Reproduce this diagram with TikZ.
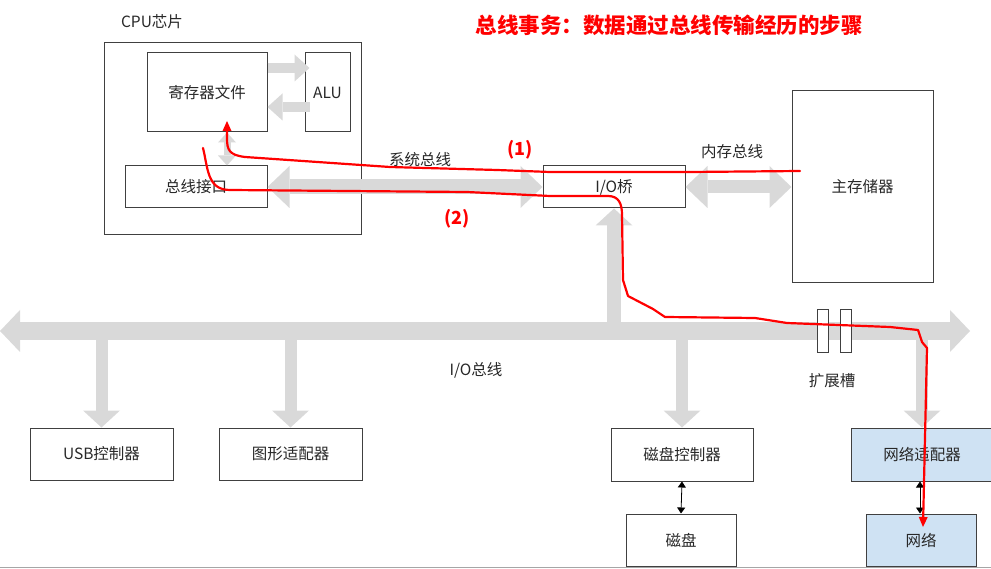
\documentclass[tikz,border=0pt]{standalone}
\usepackage{fontspec}
\setmainfont{Noto Sans CJK SC}
\usetikzlibrary{arrows.meta}

\definecolor{busgray}{RGB}{217,217,217}
\definecolor{netblue}{RGB}{207,226,243}
\definecolor{txtgray}{RGB}{40,40,40}

\tikzset{
  box/.style n args={2}{draw=black!75, line width=1pt, fill=white, inner sep=0pt,
    minimum width=#1, minimum height=#2, text=txtgray, font=\fontsize{15.5}{18}\selectfont},
  lbl/.style={inner sep=0pt, text=txtgray, font=\fontsize{15.5}{18}\selectfont},
  redlbl/.style={inner sep=0pt, text=red, font=\fontsize{18}{21}\selectfont\bfseries},
  gbar/.style={draw=busgray, line width=#1},
  redline/.style={draw=red, line width=2.2pt, line join=round, line cap=round},
  CpuTip/.tip={Triangle[length=15pt,width=27pt,line width=0pt]},
  ViaTip/.tip={Triangle[length=10pt,width=18pt,line width=0pt]},
  SysTip/.tip={Triangle[length=22pt,width=42pt,line width=0pt]},
  IoTip/.tip={Triangle[length=20pt,width=42pt,line width=0pt]},
  DownTip/.tip={Triangle[length=17pt,width=37pt,line width=0pt]},
  SmTip/.tip={Triangle[length=6pt,width=8pt]},
  RedTip/.tip={Triangle[length=10pt,width=9pt,line width=0pt]},
}

\begin{document}
\begin{tikzpicture}[x=1pt, y=-1pt, line width=1pt]
\useasboundingbox (0,0) rectangle (991,569);

% CPU芯片
\node[box={257pt}{192pt}] (cpu) at (232.5,139) {};
\node[lbl] (cpulbl) at (152,22) {CPU芯片};
\node[box={120pt}{79pt}] (reg) at (207,92.5) {寄存器文件};
\node[box={45pt}{79pt}] (alu) at (327.5,92.5) {ALU};
\node[box={142pt}{42pt}] (busif) at (196,187) {总线接口};

% 桥和主存
\node[box={142pt}{42pt}] (iobr) at (614,187) {I/O桥};
\node[box={141pt}{192pt}] (mem) at (862.5,187) {主存储器};

% I/O设备
\node[box={143pt}{52pt}] (usb) at (101.5,454) {USB控制器};
\node[box={143pt}{52pt}] (gfx) at (290.5,454) {图形适配器};
\node[box={142pt}{53pt}] (dctl) at (682,454.5) {磁盘控制器};
\node[box={142pt}{53pt}, fill=netblue] (nic) at (922,454.5) {网络适配器};
\node[box={110pt}{52pt}] (disk) at (681,540) {磁盘};
\node[box={110pt}{52pt}, fill=netblue] (net) at (921,540) {网络};

% 灰色总线箭头
\draw[gbar=10pt, -CpuTip] ([yshift=24.5pt]reg.east) -- ([yshift=24.5pt, xshift=5pt]alu.west);
\draw[gbar=10pt, -CpuTip] ([yshift=-14.5pt, xshift=5pt]alu.west) -- ([yshift=-14.5pt]reg.east);
\draw[gbar=7pt, ViaTip-ViaTip] ([xshift=20pt]reg.south) -- ([xshift=31pt]busif.north);
\draw[gbar=15pt, SysTip-SysTip] (busif.east) -- (iobr.west);
\draw[gbar=13pt, SysTip-SysTip] (iobr.east) -- (mem.west);

\coordinate (busL) at (0,331);
\coordinate (busR) at (970,331);
\draw[gbar=18pt, IoTip-IoTip] (busL) -- (busR);
\draw[gbar=14pt, -DownTip] (iobr.south |- busL) -- (iobr.south);
\foreach \dev in {usb, gfx, dctl, nic}
  \draw[gbar=12pt, -DownTip] (\dev.north |- busL) -- (\dev.north);

% 扩展槽
\node[box={11pt}{43pt}] (slotA) at (822.5,331.5) {};
\node[box={11pt}{43pt}] (slotB) at (845.5,331.5) {};

% 设备之间的小箭头
\draw[line width=0.8pt, black, SmTip-SmTip] (dctl.south) -- (disk.north);
\draw[line width=0.8pt, black, SmTip-SmTip] ([xshift=-1pt]net.north |- nic.south) -- ([xshift=-1pt]net.north);

% 文字标注
\node[lbl] (sysbus) at (420,160) {系统总线};
\node[lbl] (membus) at (732,152) {内存总线};
\node[lbl] (iobus) at (476,370) {I/O总线};
\node[lbl] (slotlbl) at (832,381) {扩展槽};
\node[inner sep=0pt, text=red, font=\fontsize{21.5}{25}\selectfont\bfseries] (title) at (669,25) {总线事务：数据通过总线传输经历的步骤};
\node[redlbl] (stepA) at (520,150) {(1)};
\node[redlbl] (stepB) at (457,219) {(2)};

% 红色路径 (1)：主存 -> 寄存器文件
\coordinate (r1s) at (800,171);
\coordinate (r1e) at (227,121);
\draw[redline, -RedTip] (r1s) -- (690,172) -- (550,172) -- (497,170) -- (390,167)
  -- (245,157) .. controls (229,155) and (227,150) .. (227,138) -- (r1e);

% 红色路径 (2)：寄存器文件 -> 网络
\coordinate (r2s) at (203,148);
\coordinate (r2e) at (923,527);
\draw[redline, -RedTip] (r2s) .. controls (208,168) and (207,190) .. (230,190)
  -- (467,192) -- (550,196) -- (608,196) .. controls (619,196) and (622,204) .. (622,215)
  -- (623,280) -- (628,296) -- (653,309) -- (665,317) -- (755,318) -- (787,323)
  -- (890,327) -- (918,330) -- (922,342) -- (927,348) -- (r2e);

% 底边灰线
\draw[gray!70, line width=0.8pt] (0,567) -- (991,567);
\end{tikzpicture}
\end{document}
